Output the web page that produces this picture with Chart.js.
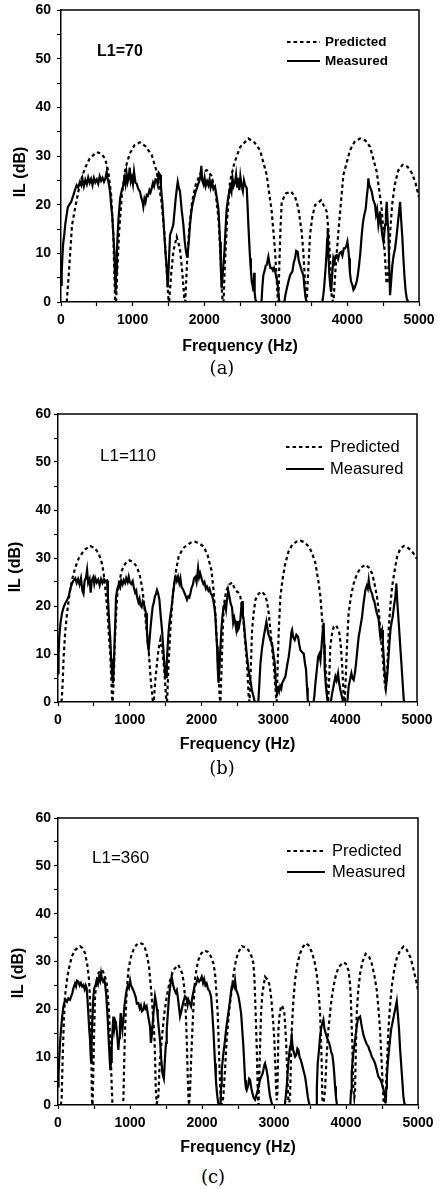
<!DOCTYPE html>
<html>
<head>
<meta charset="utf-8">
<script src="https://cdn.jsdelivr.net/npm/chart.js@4.4.1/dist/chart.umd.min.js"></script>
<style>
html, body { margin: 0; padding: 0; background: #fff; }
#page { position: relative; width: 443px; height: 1189px; overflow: hidden; background: #fff; }
canvas { position: absolute; left: 0; }
.cap { position: absolute; width: 60px; text-align: center; font-family: "DejaVu Serif", "Liberation Serif", serif; font-size: 18px; line-height: 20px; color: #000; }
</style>
</head>
<body>
<div id="page">
  <canvas id="chartA" width="443" height="360" style="top:0px"></canvas>
  <canvas id="chartB" width="443" height="370" style="top:390px"></canvas>
  <canvas id="chartC" width="443" height="380" style="top:780px"></canvas>
  <div class="cap" style="left:192px;top:358px">(a)</div>
  <div class="cap" style="left:192px;top:758px">(b)</div>
  <div class="cap" style="left:183px;top:1167px">(c)</div>
</div>
<script>
// ---- data (frequency in Hz, insertion loss in dB) ----
const xTicksMajor = [0, 1000, 2000, 3000, 4000, 5000];
const yTicksMajor = [0, 10, 20, 30, 40, 50, 60];
const seriesNames = ['Predicted', 'Measured'];
const panelTags = ['L1=70', 'L1=110', 'L1=360'];

// (a) L1=70
const predA_f = [80,110,154,200,242,290,335,400,498,560,615,661,700,730,754,760,
  770,785,810,850,900,960,1030,1103,1180,1267,1336,1400,1440,1470,1500,
  1510,1540,1570,1616,1660,1695,1723,
  1735,1760,1790,1830,1880,1950,2035,2100,2160,2200,2230,2245,2258,
  2270,2290,2320,2361,2420,2500,2617,2700,2780,2873,2943,2990,3027,
  3036,3050,3065,3083,3140,3213,3270,3316,3360,3385,3405,3418,
  3432,3455,3478,3510,3548,3632,3711,3740,3758,3772,3781,
  3805,3835,3874,3910,3944,4037,4100,4177,4250,4316,4409,4479,4510,4526,4545,4560,
  4580,4600,4625,4660,4710,4770,4840,4900,4950,5000];
const predA_il = [0,6,15.8,19.5,22.7,25.5,27.5,29.5,30.8,30.5,29.5,26.8,22,14,1.2,0,
  0,6,14,22,27.5,30.5,32.3,32.8,32,30.2,26.8,21,15,8,0.7,
  0,6,10.5,13.4,11,6,0.5,
  0,8,15,20.5,24,26.5,27.1,26,22.5,17,9,3,0,
  0,8,17,24.7,28.5,31.8,33.6,32.8,31.2,26.1,18.6,10.3,0.7,
  0,8,15,20.6,22.3,22.7,21.6,19.2,14.5,10.3,5,0.7,
  0,7,13.8,17.5,19.9,20.9,18.6,14,9,4,0.7,
  0,7,14.4,20.5,26.1,31.2,32.9,33.6,33.2,31.9,26.8,19.2,13,9,4,3.8,
  9,15,20,24,27,28.2,27.8,26.5,24.5,21.5];
const measA_f = [0,10,18,30,46,60,79,95,112,140,172,195,219,240,265,285,300,320,340,360,380,400,420,440,460,480,500,520,540,560,580,600,620,638,650,665,685,700,718,730,745,755,763,
  770,780,791,805,826,850,870,885,900,915,930,945,960,975,990,1005,1020,1040,1057,1080,1103,1120,1140,1150,1165,1180,1197,1215,1235,1250,1267,1285,1300,1320,1336,1350,1365,1383,1395,1405,1415,1430,1443,1460,1476,1490,
  1500,1512,1523,1540,1555,1569,1585,1602,1615,1630,1645,1662,1685,1709,1728,1746,1760,1769,
  1785,1802,1820,1835,1860,1881,1900,1915,1928,1945,1960,1972,1990,2005,2020,2040,2058,2075,2090,2110,2130,2151,2170,2185,2198,2210,2221,2232,2244,
  2255,2270,2282,2298,2314,2335,2361,2380,2395,2410,2431,2445,2460,2475,2490,2505,2520,2540,2555,2571,2594,2605,2617,2628,2640,2652,2664,2675,2687,2698,2705,2715,2730,2800,
  2812,2826,2845,2860,2873,2885,2896,2910,2925,2943,2960,2975,2990,3010,3027,3045,3060,3120,
  3135,3150,3176,3200,3232,3250,3269,3285,3306,3320,3339,3360,3385,3400,3418,3430,3650,
  3664,3675,3688,3705,3718,3725,3735,3748,3760,3772,3785,3804,3820,3835,3851,3870,3890,3912,3930,3950,3968,3985,4000,4012,4023,4035,4051,4070,4085,4098,
  4115,4130,4145,4163,4180,4200,4215,4230,4256,4270,4285,4293,4305,4320,4340,4360,4386,4400,4415,4433,4445,4456,4470,4485,4503,4515,4526,4538,4549,4560,4572,4585,4596,
  4610,4628,4645,4666,4690,4712,4725,4736,4750,4768,4782,4796,4812,4829,4850];
const measA_il = [3.5,6,8.9,12,13.8,16,17.9,19.5,19.9,20.5,21.9,23,24,23.5,24.7,24,25.3,23.8,25.1,24.2,25.6,24.5,25.3,24,25.5,24.6,25.2,24.3,25.8,24.9,25.5,24.7,25.4,26.8,25.5,24.5,22.7,20,17.3,14,10.3,5,1.8,
  6,10,13.8,17.5,21.3,23,24,25.4,24.2,26.5,24.6,25.5,27.6,24.8,25.6,24.2,26.8,24.5,24.3,23.2,22.7,21.5,20.5,19.6,21.2,20.5,22,21.8,23,22.5,23.4,24.5,23.8,25.2,25.1,24.2,26.5,26.1,24,22,20.6,17,13.8,10,7,3,
  6,10,13.8,14.5,15.2,15.9,18.5,21.3,23,24.7,23.5,22.7,19,15.9,12.5,10.3,9.3,9.6,
  12.5,15.9,18.5,19.9,21.5,22.7,23.5,24.2,24.7,25.5,28,25,24.2,25.5,23.8,24.8,24,25.2,23.5,24.6,23.2,23.7,22,20.5,19.2,16,12.4,7,2.8,
  5,8,10.3,15,19.2,21.5,23.4,22.5,25.5,23.8,24.7,26.2,23.5,25.5,23,25.8,24.1,22.8,25,24,23.4,20,15.8,12.5,9,6.5,4.2,3.5,2.2,6,2,0.5,0,0,
  3,5.5,6.5,7.5,7.6,8.5,9.3,8,7,7,6.5,7,6.3,5,3.5,0.4,0,0,
  1.5,2.5,4.2,5.5,6.3,8,9,10.5,10.3,8.5,7.6,6.5,5.5,3,0.7,0,0,
  1.5,3,5.5,9,13,15.2,10,5.5,3.5,2.1,5,9,8.2,9.5,9.6,8.8,10,10.3,9.5,11,11,11.5,12.4,11,9,6,4.2,3.5,2.5,2.8,
  3.5,4.2,5.5,7.6,10,13.8,16,17.5,19.2,21.5,23.5,25.4,24,23.5,22.7,21,20,18,19,15.8,17,18.6,16,14,12.4,14,15.9,18,20.6,17,14.5,7,1.4,
  4,7.6,9.5,11,14,17.2,19,20.6,17,13.1,9,5.5,2.5,0.7,0];

// (b) L1=110
const predB_f = [50,65,79,100,126,160,195,240,288,360,450,510,566,610,636,660,683,705,729,745,752,760,
  775,790,808,824,850,892,940,994,1050,1101,1140,1170,1195,1217,1240,1263,1285,1300,1319,
  1333,1355,1379,1400,1426,1450,1472,1490,1505,
  1519,1540,1565,1590,1612,1645,1681,1740,1797,1850,1904,1960,2029,2085,2136,2165,2192,2212,2229,2242,2252,
  2262,2280,2295,2308,2340,2378,2424,2470,2510,2540,2565,2586,2610,2633,2645,2656,
  2668,2680,2692,2703,2725,2749,2795,2842,2880,2912,2935,2958,2982,3004,3020,3037,
  3047,3060,3075,3097,3130,3167,3210,3260,3320,3376,3430,3492,3540,3585,3625,3655,3680,3701,3718,3734,3748,
  3762,3775,3793,3815,3840,3872,3900,3919,3940,3956,3968,3979,
  3995,4010,4025,4048,4080,4118,4160,4211,4281,4330,4374,4410,4443,4470,4490,4515,4536,4550,4560,
  4570,4583,4595,4606,4628,4653,4690,4723,4770,4816,4860,4909,4950,4979,5000];
const predB_il = [0,4,9.5,14.5,18.5,22.5,25.4,28,29.9,31.6,32.5,32.1,31,29,26.8,23.5,19.9,15,9.5,4,1,0,
  4,12,18,22.1,25,27.5,28.9,29.5,29.1,28.1,26.3,24,21,17.8,14,10.8,6,3.2,0.4,
  0,4.5,8,11,13,11,8,4.5,1,
  0,8,15,20.5,24,27.5,30.3,32,32.7,33.2,33.4,33.1,32.4,30.5,27.5,23.5,18.5,13,8,4,1,
  0,8,15,19.9,23,24.4,24.9,23.3,22.8,21.9,19.5,16.4,12,8,4.5,1,
  0,5,10,15,18.5,21.3,22.6,23,22.3,20.9,18.5,15,11,8,4.5,1,
  0,8,15,21.9,25.8,28.9,31.3,32.7,33.4,33.6,33.3,32.4,31,28.9,25.3,21.9,17,12.9,9,6,1,
  0,4,11.6,14,15.7,16,15.2,14.3,11.5,8,4.5,1,
  0,6,12,18.5,22,24.7,26.5,27.9,28.6,28,26.8,24.5,21.9,18.5,15,10.5,6.7,4,3,
  4,6,10.5,15,20,24,27.5,30.3,32,32.5,32.3,31.7,31,30.3,29.8];
const measB_f = [0,8,18,35,56,80,102,125,149,170,195,215,241,260,280,300,320,340,355,370,390,405,420,440,455,470,490,505,520,540,560,580,600,620,640,660,683,695,706,718,729,740,752,766,
  778,789,800,808,825,845,865,880,900,915,935,950,970,985,1000,1020,1040,1054,1075,1090,1101,1120,1135,1147,1165,1180,1194,1210,1226,1238,1249,1263,
  1275,1286,1305,1320,1333,1350,1365,1379,1395,1412,1430,1449,1465,1481,1495,1505,
  1515,1525,1542,1560,1575,1588,1605,1626,1640,1655,1672,1690,1705,1720,1740,1765,1780,1797,1815,1830,1844,1860,1880,1895,1914,1930,1951,1965,1980,2006,2025,2040,2060,2076,2095,2110,2130,2145,2165,2180,2192,2205,2215,2225,2235,
  2245,2258,2275,2290,2308,2325,2340,2354,2370,2387,2405,2424,2440,2455,2470,2482,2494,2505,2517,2530,2540,2554,2565,2575,2586,2600,2615,2633,2655,2679,2700,2726,2740,2790,
  2805,2819,2840,2866,2885,2903,2920,2933,2945,2960,2982,3000,3019,3030,3037,3050,3065,3080,3095,3110,3121,3140,3167,3190,3213,3235,3250,3260,3275,3297,3320,3343,3360,3376,3395,3410,3422,3440,3455,3468,3478,3490,3560,
  3572,3585,3600,3623,3640,3655,3670,3688,3700,3708,3715,3730,3748,3760,3800,
  3817,3840,3863,3880,3900,3915,3933,3956,3970,4030,
  4048,4065,4086,4100,4118,4135,4151,4170,4188,4210,4235,4255,4281,4300,4315,4328,4340,4355,4374,4390,4405,4420,4440,4455,4467,4480,4490,4503,4513,4525,4536,4550,4569,
  4585,4597,4615,4630,4645,4662,4680,4699,4713,4725,4746,4765,4783,4800,4816,4830];
const measB_il = [6,10,13.6,16.5,18.5,19.8,20.6,21.2,22,23.5,24.7,25.3,25.8,24.8,25.6,24.5,25.8,23.2,22.6,25.2,25.9,27.5,24.8,25.6,22.8,25.3,26,24.6,25.8,24.9,25.5,24.3,25.6,24.8,25.6,25.2,25.3,22,18.5,15.5,12.9,9,6,3.9,
  8,12.9,17.5,21.9,23.5,24.4,23.8,25.3,24.5,25.4,24.8,25.8,25,26.1,25,24.6,25.2,24,22.8,23.2,21.9,20.8,21.5,20.2,19.8,21,20.6,19.5,18.5,15,12.2,10.8,
  13,15,18,20,20.6,22,22.5,23.3,22.6,21.3,18,15,11.5,8,5.5,5.2,
  8,11,15,17.5,19,20.6,23,25.4,26,25.2,26.1,24.8,25.8,24,23.5,22.6,22,21.3,22,21.8,22.6,23.8,24.5,25.8,26.1,25,27.9,26,26.8,25.4,24.6,25,23.6,24,23.2,23.6,22.5,22.3,21,19.5,17.8,14,11.5,7,4,
  6,10,15,17.8,19.9,20.5,19.2,21.3,23.3,22,20.5,19.7,16.5,17.5,16.4,15.2,16.9,15,15.3,16.5,17.2,19.9,21,18,17.1,14.5,12,9.4,6.5,4.6,2.5,1,0,0,
  4,8,11,13.6,15.2,16.7,15,14,13.6,12.8,12.2,10,8,5,3.2,2.5,3,2.2,3.3,2.8,3.9,4.5,5.3,7.5,9.4,12,14.5,15,13.5,12.9,14,13.6,12,10.8,10.5,10.2,10.1,8,6.7,3,0.4,0,0,
  1.5,3.9,6,9.4,10,8.7,11.5,15,16.5,12,6.7,3.5,1,0,0,
  1.7,3.5,5.3,4.5,6,4,2.5,1,0,0,
  3.2,4.5,6,5,4.6,6,8,11,13.6,15.5,17.8,20.5,23.3,24.2,23.6,25.4,24,23.2,22.6,21.5,21,19.9,18.5,17.8,17.1,15,13.6,14.5,15,12,9.4,6,3.2,
  5.5,8,12,15,16.5,17.8,20,22,24.7,21,16.4,12,8,4,0.4,0];

// (c) L1=360
const predC_f = [40,51,65,80,97,130,167,200,237,306,340,376,405,431,448,459,465,468,475,
  480,491,500,514,535,560,590,616,650,676,695,709,725,736,748,755,762,900,
  908,918,931,950,977,1010,1047,1090,1140,1180,1209,1240,1264,1285,1301,1320,1339,1350,1357,1371,
  1394,1410,1440,1475,1510,1555,1603,1670,1727,1750,1764,1778,1788,1800,1811,1820,
  1834,1850,1866,1885,1903,1925,1949,1990,2033,2080,2126,2160,2181,2200,2218,2230,2241,2252,2260,2275,
  2297,2320,2343,2375,2413,2440,2468,2500,2552,2600,2644,2690,2714,2728,2737,2750,2760,2768,2774,2780,2785,
  2792,2806,2820,2840,2876,2905,2932,2950,2968,2988,3005,3018,3028,3038,
  3047,3055,3061,3075,3098,3120,3144,3158,3167,3180,3191,3200,3212,
  3223,3235,3246,3270,3293,3325,3362,3400,3441,3480,3524,3560,3593,3620,3640,3653,3663,3672,3690,
  3709,3730,3755,3790,3825,3865,3903,3964,4000,4033,4055,4066,4080,4089,4097,4103,4115,
  4126,4137,4149,4170,4196,4230,4274,4320,4357,4395,4427,4452,4473,4490,4506,4524,4540,
  4552,4570,4589,4610,4635,4670,4705,4750,4797,4840,4890,4920,4950,4975,5000];
const predC_il = [0,1.6,10,17,22.7,26.8,29.6,31.3,32.4,33.2,32.8,31.7,29.5,26.2,21,15.7,9,3.8,0,
  0,7.3,14,22.7,25.8,27.5,28.1,28.2,27,25.4,22.5,19.2,13,8.7,3,0.7,0,0,
  1.1,8,15.7,22.5,28.2,30.8,32.4,33.5,33.9,33.6,32.8,31,28.9,25.5,22.7,18.5,14.3,9,3.8,0.3,
  1.8,8,13.6,19,22.7,26,28.2,29.3,27.5,25,22.7,18,13.6,7,1.8,0,
  3.1,10,15.7,21.5,26.2,28.5,30.3,31.7,32.3,32,31,29.5,27.5,23.5,19.2,14,8.7,4,1.1,0,
  1.8,7.5,13.6,19.5,24.1,27.5,30,31.8,33.2,33,32.4,31,29.6,26.5,22.7,17,12.2,7,3.1,0.5,0,
  3.8,12,19.2,23.5,26.8,26.3,25.4,23.8,21.3,17.5,13.6,8.5,3.8,1,
  2.5,9,15.7,18.5,20.8,20.5,19.2,16,13.6,8.5,3.8,0.7,0.5,
  1.8,9,15.7,22,26.2,29.5,31.7,33,33.8,33.4,32,30.2,27.5,23.5,19.2,13.5,8.7,1.1,0.5,
  3.1,10,15.7,21,24.7,27.5,28.9,29.8,29.5,28.2,25.5,22.7,16,12.2,7,3.1,1.5,
  3.1,12,19.2,24,27.5,30,31.6,31,29.6,27,24,20,15.7,10.5,5.3,0.3,0.5,
  2.5,9,15.7,20.5,24.7,28.3,30.7,32.3,33.1,32.5,31,29.5,27.5,26,24];
const measC_f = [0,8,14,28,42,58,75,90,107,125,145,167,185,199,215,236,250,265,283,300,318,335,352,370,385,398,410,421,433,445,452,459,
  467,475,491,505,520,537,555,570,585,598,612,625,640,653,670,686,698,709,718,727,
  737,746,757,769,782,795,805,815,826,838,850,860,871,883,894,908,922,938,954,970,985,1001,1015,1030,1045,1061,1080,1095,1116,1135,1150,1165,1186,1200,1218,1232,1248,1265,1278,1290,1301,
  1315,1330,1348,1362,1375,1385,1400,1417,1432,1450,1470,
  1487,1500,1510,1525,1542,1560,1579,1598,1616,1635,1650,1663,1680,1695,1712,1727,1745,1764,1785,1800,1811,1830,1848,1865,1880,1894,1915,1940,1960,1980,1996,2015,2030,2048,2065,2085,2105,2126,2142,2158,2170,2181,2192,2204,2215,2227,2240,2258,
  2266,2274,2295,2320,2340,2366,2390,2413,2430,2445,2459,2475,2490,2506,2520,2543,2560,2575,2586,2598,2610,2621,2640,2655,2667,2685,2700,2718,2737,2755,2774,2790,2806,2825,2840,2852,2865,2876,2895,2913,2930,2945,2969,2980,3150,
  3165,3180,3191,3207,3223,3235,3246,3260,3275,3293,3310,3325,3339,3355,3370,3385,3405,3420,3432,3450,3469,3485,3495,3585,
  3595,3607,3625,3640,3660,3675,3686,3700,3718,3732,3750,3765,3779,3795,3810,3825,3837,3848,3860,3871,3880,4060,
  4070,4079,4095,4112,4126,4145,4163,4180,4196,4212,4228,4245,4265,4280,4295,4311,4325,4340,4358,4380,4404,4425,4440,4450,4470,4480,4496,4515,4533,4545,4552,
  4560,4568,4580,4600,4626,4650,4672,4690,4705,4720,4737,4750,4765,4780,4797,4811,4825];
const measC_il = [3.9,6.5,8.7,13,15.7,18.5,20.6,21.5,22,21.6,22.3,22,22.8,23.4,24.5,25.4,24.8,26,25.8,25,25.5,24.8,25.1,24.2,25,24.4,22,19.2,16,13.6,11,9,
  13,17,22.7,24.5,25,26.1,25.3,26.8,26,27.5,26.2,25.8,26.3,25.4,23,19.2,15.5,12.2,9.5,7.3,
  9,12.2,15.5,18.5,16,17.5,17,15.7,14,11.5,14,16.5,19.2,17,15.7,18,20.6,22.5,24.1,25,24.5,26.1,25,24.5,24,23.4,22.5,21.2,21.3,20.2,20.8,19.6,19.9,21,20.2,20.6,19,17.5,16.4,13,14.3,
  17,20,22.7,21.5,20,18.5,16,13.6,10,6.6,5.5,
  10.1,13,15.7,19,22.7,25,26.8,25.2,24.1,23.5,24,22.7,20.5,18.5,19.5,20.6,21.8,22.7,22.3,21,22,21.3,20.6,22.5,23.6,24.7,25.2,26.5,25.8,26.2,26.8,25.5,26.3,25,25.4,24.2,23.8,22.7,19.5,15.7,12,8.7,5.5,3.1,1.5,0.35,0,0,
  4,7.3,10.5,13.6,16.5,19.2,22,24.7,25.5,24.8,26.1,24,23.5,22.7,21.5,19.2,15.5,12.2,9,5.3,3.5,3.1,4,5.5,5.3,3.5,2.5,1.5,1.1,2,3.1,4.2,5.3,6,6.5,7.3,8.3,8.7,7.5,5.9,3.5,1.8,0.35,0,0,
  2,4.5,7.3,10,12.2,13,14.3,12,11,10.1,10.5,11.8,11.5,10,9.5,8.7,7.5,6.6,5.9,4,1.8,0.5,0,0,
  3.5,8.7,11.5,14.3,16.5,17.2,17.8,16,15,14.3,13.5,13,12.2,11,10.5,8.7,6.5,3.9,1.8,0.35,0,0,
  3,6.6,10,12,13.6,16,17.8,18.3,18.5,17,15.7,14.5,13.6,13,12.5,12.2,11.5,11,10.1,9.5,8.7,7.5,6.5,5.9,5.5,5.2,4.6,3.5,2.5,1.5,0.35,
  3.5,6,8.7,12,15.7,17.5,19.2,20.5,21.7,19,15.7,12,8.7,5.5,1.8,0.35,0];

// ---- helpers ----
function pts(f, v) { return f.map((x, i) => ({ x: x, y: v[i] })); }

const sansBold = '"Liberation Sans", Arial, sans-serif';

// frame, axis title, panel tag and in-plot legend
const decorPlugin = {
  id: 'decor',
  afterDraw(chart, args, o) {
    const ctx = chart.ctx, a = chart.chartArea;
    ctx.save();
    ctx.strokeStyle = '#000';
    ctx.lineWidth = 1.5;
    ctx.beginPath();
    ctx.moveTo(a.left, a.top);
    ctx.lineTo(a.right, a.top);
    ctx.lineTo(a.right, a.bottom);
    ctx.stroke();

    ctx.fillStyle = '#000';
    ctx.textBaseline = 'middle';
    ctx.save();
    ctx.font = 'bold 16px ' + sansBold;
    ctx.textAlign = 'center';
    ctx.translate(o.yTitle[0], o.yTitle[1]);
    ctx.rotate(-Math.PI / 2);
    ctx.fillText('IL (dB)', 0, 0);
    ctx.restore();

    ctx.textAlign = 'left';
    ctx.font = o.tagFont;
    ctx.fillText(o.tag, o.tagPos[0], o.tagPos[1]);

    chart.data.datasets.forEach((ds, i) => {
      const y = o.legendY[i];
      ctx.setLineDash(ds.borderDash || []);
      ctx.lineWidth = ds.borderWidth;
      ctx.beginPath();
      ctx.moveTo(o.legendX[0], y);
      ctx.lineTo(o.legendX[1], y);
      ctx.stroke();
      ctx.setLineDash([]);
      ctx.font = o.legendFont;
      ctx.fillText(ds.label, o.legendX[2], y);
    });
    ctx.restore();
  }
};

function makeChart(id, g, pred, meas, decor) {
  const W = 443;
  new Chart(document.getElementById(id), {
    type: 'line',
    data: {
      datasets: [
        { label: seriesNames[0], data: pred, borderColor: '#000', borderWidth: 2.2,
          borderDash: [3.5, 3], pointRadius: 0, tension: 0, fill: false },
        { label: seriesNames[1], data: meas, borderColor: '#000', borderWidth: 2.2,
          pointRadius: 0, tension: 0, fill: false }
      ]
    },
    options: {
      responsive: false,
      animation: false,
      events: [],
      layout: { padding: { left: 0, top: g.top, right: W - g.right, bottom: 0 } },
      plugins: { legend: { display: false }, tooltip: { enabled: false }, decor: decor },
      scales: {
        x: {
          type: 'linear', min: 0, max: 5000,
          afterFit: s => { s.height = g.H - g.bottom; s.paddingLeft = 0; s.paddingRight = 0; },
          border: { display: true, color: '#000', width: 1.5 },
          grid: { display: true, drawOnChartArea: false, drawTicks: true, tickLength: 4, tickColor: '#000', tickWidth: 1.2 },
          ticks: {
            stepSize: 500, autoSkip: false, maxRotation: 0, padding: 6, color: '#000',
            font: { family: sansBold, size: 14, weight: 'bold' },
            callback: v => xTicksMajor.includes(v) ? String(v) : ''
          },
          title: { display: true, text: 'Frequency (Hz)', color: '#000',
            font: { family: sansBold, size: 16, weight: 'bold' },
            padding: { top: 0, bottom: g.titlePad } }
        },
        y: {
          min: 0, max: 60,
          afterFit: s => { s.width = g.left; s.paddingTop = 0; s.paddingBottom = 0; },
          border: { display: true, color: '#000', width: 1.5 },
          grid: { display: true, drawOnChartArea: false, drawTicks: true, tickLength: 4, tickColor: '#000', tickWidth: 1.2 },
          ticks: {
            stepSize: 5, autoSkip: false, padding: g.yPad, color: '#000',
            font: { family: sansBold, size: 14, weight: 'bold' },
            callback: v => yTicksMajor.includes(v) ? String(v) : ''
          }
        }
      }
    },
    plugins: [decorPlugin]
  });
}

makeChart('chartA', { H: 360, top: 10, bottom: 302, left: 61, right: 419, titlePad: 3.4, yPad: 6 },
  pts(predA_f, predA_il), pts(measA_f, measA_il),
  { tag: panelTags[0], tagPos: [97, 52], tagFont: 'bold 16px ' + sansBold,
    legendX: [287, 320, 325], legendY: [42, 61], legendFont: 'bold 13.5px ' + sansBold, yTitle: [21, 172] });

makeChart('chartB', { H: 370, top: 24, bottom: 312, left: 58, right: 417, titlePad: 5.4, yPad: 3 },
  pts(predB_f, predB_il), pts(measB_f, measB_il),
  { tag: panelTags[1], tagPos: [100, 66], tagFont: '17px ' + sansBold,
    legendX: [286, 324, 330], legendY: [57, 79], legendFont: '16.5px ' + sansBold, yTitle: [16, 177] });

makeChart('chartC', { H: 380, top: 38, bottom: 325, left: 58, right: 418, titlePad: 2.4, yPad: 3 },
  pts(predC_f, predC_il), pts(measC_f, measC_il),
  { tag: panelTags[2], tagPos: [92, 78], tagFont: '17px ' + sansBold,
    legendX: [287, 325, 332], legendY: [71, 92], legendFont: '16.5px ' + sansBold, yTitle: [19, 193] });
</script>
</body>
</html>
